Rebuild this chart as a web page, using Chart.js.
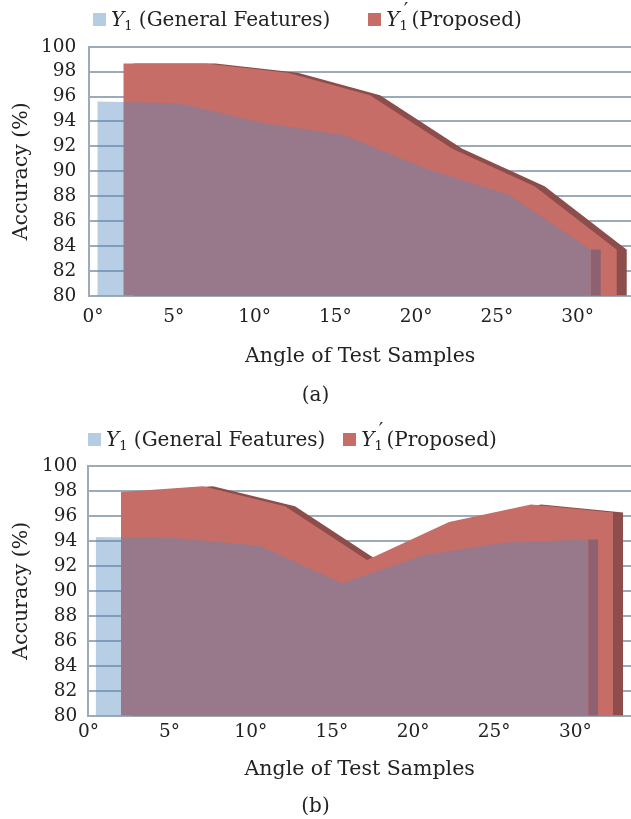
<!DOCTYPE html>
<html>
<head>
<meta charset="utf-8">
<script src="https://cdn.jsdelivr.net/npm/chart.js@4.4.0/dist/chart.umd.min.js"></script>
<style>
  html, body { margin: 0; padding: 0; background: #fff; }
  body { width: 631px; height: 819px; overflow: hidden; font-family: 'DejaVu Serif', serif; color: #222; }
  .panel { position: relative; width: 631px; }
  .panel canvas { position: absolute; left: 0; top: 0; }
  .legend { position: absolute; display: flex; align-items: center; font-size: 20px; white-space: nowrap; height: 28px; }
  .legend .item { display: flex; align-items: center; }
  .legend .sw { width: 13px; height: 13px; margin-right: 5px; }
  .legend sub { font-size: 0.65em; vertical-align: -0.3em; }
  .legend .pr { position: relative; top: -0.45em; margin-left: -0.2em; margin-right: 0.15em; }
</style>
</head>
<body>
<div class="panel" style="height:410px"><canvas id="chartA" width="631" height="410"></canvas><div class="legend" id="legendA"></div></div>
<div class="panel" style="height:409px"><canvas id="chartB" width="631" height="409"></canvas><div class="legend" id="legendB"></div></div>
<script>
// data
const angles = [0, 5, 10, 15, 20, 25, 30];
const generalA = [95.6, 95.45, 93.9, 92.9, 90.2, 88.1, 83.7];
const proposedA = [98.65, 98.65, 97.9, 96.1, 91.8, 88.8, 83.7];
const generalB = [94.3, 94.2, 93.6, 90.6, 92.85, 93.85, 94.1];
const proposedB = [97.9, 98.35, 96.75, 92.45, 95.5, 96.9, 96.25];
const xTicks = [0, 5, 10, 15, 20, 25, 30];
const yTicks = [80, 82, 84, 86, 88, 90, 92, 94, 96, 98, 100];
const seriesNames = ['Y\u2081 (General Features)', 'Y\u2081\u2032 (Proposed)'];
const legendHtml = ['<i>Y</i><sub>1</sub>&nbsp;(General Features)', '<i>Y</i><sub>1</sub><span class="pr">\u2032</span>(Proposed)'];
const captions = ['(a)', '(b)'];

const FONT = "'DejaVu Serif', serif";
const INK = '#222';
const GRID = '#9dabb9';
const BLUE_SWATCH = '#b5cde4';
const BLUE_FILL = 'rgba(85, 138, 190, 0.42)';
const BLUE_SIDE = 'rgba(72, 82, 124, 0.45)';
const RED = '#c66d67';
const RED_BACK = '#8c4d4b';

Chart.defaults.font.family = FONT;
Chart.defaults.color = INK;

const panels = [
    {
        canvas: 'chartA', legend: 'legendA', general: generalA, proposed: proposedA, caption: captions[0],
        area: { left: 89.3, top: 46.7 }, xRange: [-0.23, 33.31],
        blue: [0.266, 1.0186], red: [1.876, 1.0186], depth: 10,
        yPad: 13, xPad: 10.7, xAxisH: 73, capPad: [15.3, 2], bottomPad: 0,
        legendPos: { left: 93, cy: 20, gap: 38 }
    },
    {
        canvas: 'chartB', legend: 'legendB', general: generalB, proposed: proposedB, caption: captions[1],
        area: { left: 88.3, top: 55.7 }, xRange: [-0.01, 33.43],
        blue: [0.444, 1.0117], red: [2.0, 1.011], depth: 10,
        yPad: 11, xPad: 4.9, xAxisH: 66.6, capPad: [12.7, 0], bottomPad: 0,
        legendPos: { left: 88, cy: 30, gap: 18 }
    }
];

function pts(values) {
    return angles.map((a, i) => ({ x: a, y: values[i] }));
}

function layerAxis(p, offset, spread) {
    const [lo, hi] = p.xRange;
    return { type: 'linear', display: false, min: (lo - offset) / spread, max: (hi - offset) / spread };
}

function buildLegend(p) {
    const el = document.getElementById(p.legend);
    const sw = [BLUE_SWATCH, RED];
    el.style.left = p.legendPos.left + 'px';
    el.style.top = (p.legendPos.cy - 14) + 'px';
    el.style.gap = p.legendPos.gap + 'px';
    el.innerHTML = legendHtml.map((h, i) =>
        '<span class="item"><span class="sw" style="background:' + sw[i] + '"></span><span>' + h + '</span></span>'
    ).join('');
}

panels.forEach(function(p) {
    const [lo, hi] = p.xRange;
    const pxPerUnit = (631 - p.area.left) / (hi - lo);
    const depthUnits = p.depth / pxPerUnit;
    const last = angles.length - 1;
    const common = { borderWidth: 0, borderColor: 'transparent', pointRadius: 0, tension: 0, fill: 'start' };

    new Chart(document.getElementById(p.canvas), {
        type: 'line',
        data: {
            datasets: [
                Object.assign({ label: seriesNames[0], data: pts(p.general), xAxisID: 'xBlue', backgroundColor: BLUE_FILL, order: 0 }, common),
                Object.assign({
                    label: 'side', xAxisID: 'xBlue', backgroundColor: BLUE_SIDE, order: 1,
                    data: [{ x: angles[last], y: p.general[last] }, { x: angles[last] + depthUnits / p.blue[1], y: p.general[last] }]
                }, common),
                Object.assign({ label: seriesNames[1], data: pts(p.proposed), xAxisID: 'xRed', backgroundColor: RED, order: 2 }, common),
                Object.assign({ label: 'depth', data: pts(p.proposed), xAxisID: 'xRedBack', backgroundColor: RED_BACK, order: 3 }, common)
            ]
        },
        options: {
            responsive: false,
            animation: false,
            events: [],
            layout: { padding: { top: p.area.top, left: 0, right: 0, bottom: p.bottomPad } },
            scales: {
                x: {
                    type: 'linear', position: 'bottom', min: lo, max: hi,
                    afterBuildTicks: s => { s.ticks = xTicks.map(v => ({ value: v })); },
                    afterFit: s => { s.height = p.xAxisH; },
                    grid: { display: false, drawTicks: false },
                    border: { display: true, color: GRID, width: 2 },
                    ticks: { padding: p.xPad, font: { size: 18.5 }, color: INK, maxRotation: 0, autoSkip: false, callback: v => v + '\u00b0' },
                    title: { display: true, text: 'Angle of Test Samples', font: { size: 20.5 }, color: INK, padding: { top: 0, bottom: 0 } }
                },
                xBlue: layerAxis(p, p.blue[0], p.blue[1]),
                xRed: layerAxis(p, p.red[0], p.red[1]),
                xRedBack: layerAxis(p, p.red[0] + depthUnits, p.red[1]),
                y: {
                    type: 'linear', position: 'left', min: yTicks[0], max: yTicks[yTicks.length - 1],
                    afterBuildTicks: s => { s.ticks = yTicks.map(v => ({ value: v })); },
                    afterFit: s => { s.width = p.area.left; },
                    grid: { color: GRID, lineWidth: 2, drawTicks: false },
                    border: { display: true, color: GRID, width: 2 },
                    ticks: { padding: p.yPad, font: { size: 18.5 }, color: INK, autoSkip: false },
                    title: { display: true, text: 'Accuracy (%)', font: { size: 20.5 }, color: INK, padding: { top: 9.7, bottom: 0 } }
                }
            },
            plugins: {
                legend: { display: false },
                tooltip: { enabled: false },
                title: {
                    display: true, position: 'bottom', text: p.caption, color: INK,
                    font: { size: 20, weight: 'normal' }, padding: { top: p.capPad[0], bottom: p.capPad[1] }
                }
            }
        }
    });
    buildLegend(p);
});
</script>
</body>
</html>
